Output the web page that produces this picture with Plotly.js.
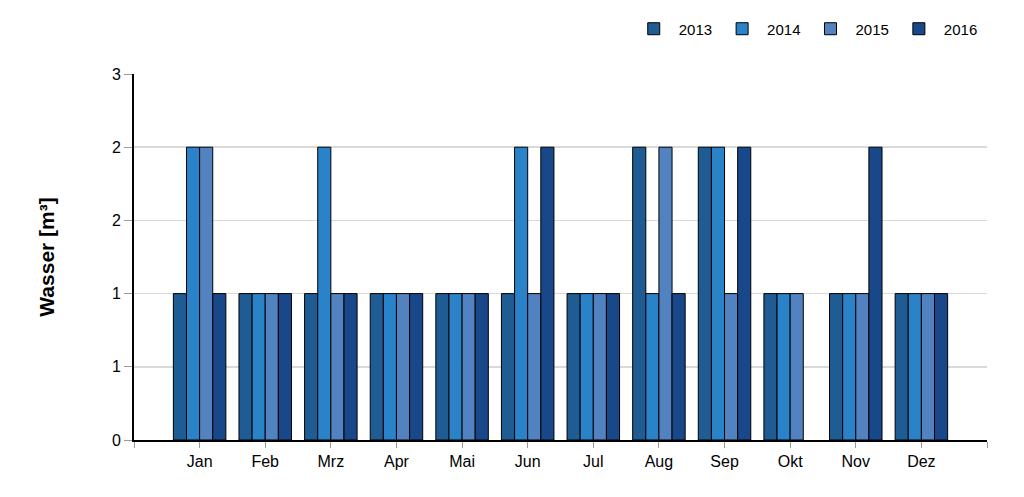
<!DOCTYPE html>
<html>
<head>
<meta charset="utf-8">
<script src="https://cdn.plot.ly/plotly-3.0.1.min.js"></script>
<style>html,body{margin:0;padding:0;background:#fff;}#chart{width:1024px;height:497px;}</style>
</head>
<body>
<div id="chart"></div>
<script>
const months = ["Jan","Feb","Mrz","Apr","Mai","Jun","Jul","Aug","Sep","Okt","Nov","Dez"];
const years = ["2013","2014","2015","2016"];
const v2013 = [1,1,1,1,1,1,1,2,2,1,1,1];
const v2014 = [2,1,2,1,1,2,1,1,2,1,1,1];
const v2015 = [2,1,1,1,1,1,1,2,1,1,1,1];
const v2016 = [1,1,1,1,1,2,1,1,2,null,2,1];
const yTickVals = [0,0.5,1,1.5,2,2.5];
const yTickText = ["0","1","1","2","2","3"];
const colors = ["#1f5c94","#2a82c9","#5283c0","#184889"];

const series = [v2013, v2014, v2015, v2016];
const xIdx = months.map((m,i)=>i);
const traces = series.map((vals,k)=>({
  type:'bar', name:years[k], x:xIdx, y:vals,
  marker:{color:colors[k], line:{color:'#000', width:1}},
  hoverinfo:'y'
}));

const xTickVals = [-1].concat(xIdx, [12]);
const xTickText = [""].concat(months, [""]);

const layout = {
  width:1024, height:497,
  margin:{l:134, r:37, t:74, b:57},
  paper_bgcolor:'#fff', plot_bgcolor:'#fff',
  font:{family:'Liberation Sans, Arial, sans-serif', size:16, color:'#000'},
  barmode:'group', bargap:0.2, bargroupgap:0,
  showlegend:true,
  legend:{orientation:'h', x:0.995, xanchor:'right', y:1.123, yanchor:'middle',
          font:{size:15}, traceorder:'normal', itemwidth:40},
  xaxis:{range:[-1,12], tickmode:'array', tickvals:xTickVals, ticktext:xTickText,
         tickfont:{size:16},
         showgrid:false, zeroline:false, showline:true, linecolor:'#000', linewidth:2,
         ticks:'outside', ticklen:6, tickcolor:'#999', tickwidth:1, fixedrange:true},
  yaxis:{range:[0,2.5], tickmode:'array', tickvals:yTickVals, ticktext:yTickText,
         tickfont:{size:16},
         showgrid:true, gridcolor:'#d9d9d9', gridwidth:1.5, zeroline:false,
         showline:true, linecolor:'#000', linewidth:2,
         ticks:'outside', ticklen:8, tickcolor:'#999', tickwidth:1,
         title:{text:'<b>Wasser [m³]</b>', font:{size:21}, standoff:52}, fixedrange:true}
};
Plotly.newPlot('chart', traces, layout, {displayModeBar:false, staticPlot:true});
</script>
</body>
</html>
